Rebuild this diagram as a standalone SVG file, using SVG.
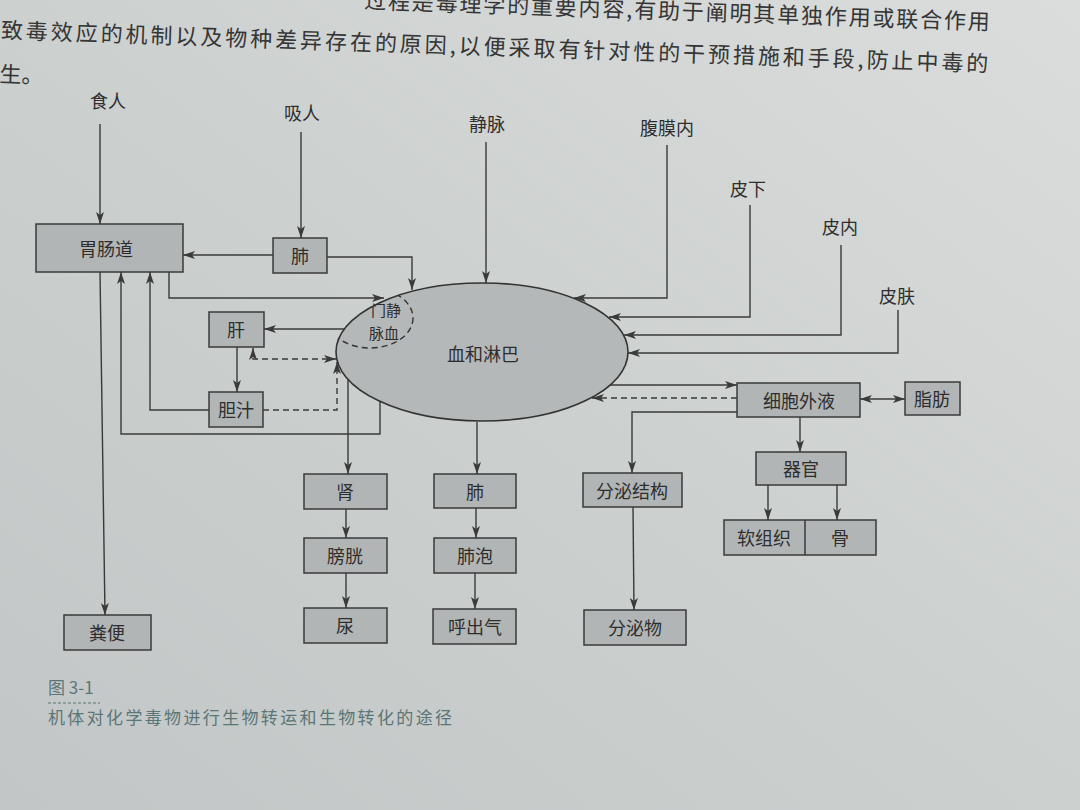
<svg xmlns="http://www.w3.org/2000/svg" width="1080" height="810" viewBox="0 0 1080 810">
<defs>
<linearGradient id="bg" x1="1" y1="0" x2="0" y2="1">
<stop offset="0" stop-color="#dadddc"/>
<stop offset="0.5" stop-color="#ccd0cf"/>
<stop offset="1" stop-color="#c2c6c6"/>
</linearGradient>
<marker id="a" viewBox="0 0 12 8" refX="12" refY="4" markerWidth="12" markerHeight="8" markerUnits="userSpaceOnUse" orient="auto-start-reverse">
<path d="M0,0 L12,4 L0,8 L3,4 z" fill="#3a3a3a"/>
</marker>
<clipPath id="ec"><ellipse cx="482" cy="352" rx="146" ry="69"/></clipPath>
</defs>
<style>
.bx{fill:#b2b5b5;stroke:#3a3a3a;stroke-width:1.5}
.t{font-family:"Noto Sans CJK SC","Noto Sans",sans-serif;font-size:18px;fill:#2e2e2e;text-anchor:middle;dominant-baseline:central}
.pv{font-family:"Noto Sans CJK SC","Noto Sans",sans-serif;font-size:15px;fill:#2e2e2e;text-anchor:middle}
.ln{fill:none;stroke:#3a3a3a;stroke-width:1.4}
.ar{marker-end:url(#a)}
.dl{stroke-dasharray:6,4}
.body{font-family:"Noto Sans CJK SC","Noto Sans",sans-serif;font-size:22px;fill:#353535}
.cap{font-family:"Noto Sans CJK SC","Noto Sans",sans-serif;font-size:17px;fill:#5b7676}
</style>
<rect x="0" y="0" width="1080" height="810" fill="url(#bg)"/>

<g id="page-text" transform="rotate(1.96)">
<text class="body" x="364" y="-4" textLength="626" lengthAdjust="spacing">过程是毒理学的重要内容,有助于阐明其单独作用或联合作用</text>
<text class="body" x="2" y="38" textLength="988" lengthAdjust="spacing">致毒效应的机制以及物种差异存在的原因,以便采取有针对性的干预措施和手段,防止中毒的</text>
<text class="body" x="2" y="82">生。</text>
</g>

<g id="connectors">
<path class="ln ar" d="M100,124 L100,224"/>
<path class="ln ar" d="M301,132 L301,238"/>
<path class="ln ar" d="M273,255 L183,255"/>
<path class="ln ar" d="M327,257 L412,257 L412,290"/>
<path class="ln ar" d="M169,272 L169,298 L384,298"/>
<path class="ln ar" d="M344,329 L264,329"/>
<path class="ln ar" d="M237,347 L237,392"/>
<path class="ln ar" d="M209,410 L150,410 L150,272"/>
<path class="ln ar" d="M380,401 L380,434 L121,434 L121,272"/>
<path class="ln ar dl" d="M263,410 L337,410 L337,362"/>
<path class="ln ar dl" style="marker-start:url(#a)" d="M253,348 L253,359 L336,359"/>
<path class="ln ar" d="M100,272 L105,615"/>
<path class="ln ar" d="M486,142 L486,283"/>
<path class="ln ar" d="M667,145 L667,298 L574,298"/>
<path class="ln ar" d="M750,205 L750,317 L609,317"/>
<path class="ln ar" d="M841,245 L841,335 L624,335"/>
<path class="ln ar" d="M898,310 L898,353 L628,353"/>
<path class="ln ar" d="M609,385 L737,385"/>
<path class="ln ar dl" d="M737,398 L592,398"/>
<path class="ln ar" d="M737,412 L632,412 L632,473"/>
<path class="ln ar" d="M633,507 L634,610"/>
<path class="ln ar" style="marker-start:url(#a)" d="M860,399 L905,399"/>
<path class="ln ar" d="M800,417 L800,452"/>
<path class="ln ar" d="M768,485 L768,520"/>
<path class="ln ar" d="M837,485 L837,520"/>
<path class="ln ar" d="M348,380 L348,474"/>
<path class="ln ar" d="M346,509 L346,538"/>
<path class="ln ar" d="M346,573 L346,608"/>
<path class="ln ar" d="M477,422 L477,474"/>
<path class="ln ar" d="M476,508 L476,538"/>
<path class="ln ar" d="M475,573 L475,609"/>
</g>

<g id="labels-in">
<text class="t" x="108" y="100">食人</text>
<text class="t" x="302" y="112">吸人</text>
<text class="t" x="487" y="123">静脉</text>
<text class="t" x="667" y="127">腹膜内</text>
<text class="t" x="748" y="188">皮下</text>
<text class="t" x="840" y="226">皮内</text>
<text class="t" x="897" y="295">皮肤</text>
</g>

<g id="blood">
<ellipse cx="482" cy="352" rx="146" ry="69" fill="#b5b8b8" stroke="#333" stroke-width="1.6"/>
<ellipse cx="370" cy="318" rx="43" ry="30" fill="none" stroke="#333" stroke-width="1.4" stroke-dasharray="6,4" clip-path="url(#ec)"/>
<text class="pv" x="386" y="316"><tspan x="386" y="316">门静</tspan><tspan x="384" y="339">脉血</tspan></text>
<text class="t" x="483" y="353">血和淋巴</text>
</g>

<g id="gi"><rect class="bx" x="36" y="224" width="147" height="48"/><text class="t" x="106" y="248">胃肠道</text></g>
<g id="lung-in"><rect class="bx" x="273" y="238" width="54" height="35"/><text class="t" x="300" y="255">肺</text></g>
<g id="liver"><rect class="bx" x="209" y="312" width="55" height="35"/><text class="t" x="236" y="329">肝</text></g>
<g id="bile"><rect class="bx" x="209" y="392" width="54" height="35"/><text class="t" x="236" y="409">胆汁</text></g>
<g id="feces"><rect class="bx" x="64" y="615" width="87" height="35"/><text class="t" x="107" y="632">粪便</text></g>
<g id="kidney"><rect class="bx" x="304" y="474" width="83" height="35"/><text class="t" x="345" y="491">肾</text></g>
<g id="bladder"><rect class="bx" x="304" y="538" width="83" height="35"/><text class="t" x="345" y="555">膀胱</text></g>
<g id="urine"><rect class="bx" x="304" y="608" width="83" height="35"/><text class="t" x="345" y="625">尿</text></g>
<g id="lung-out"><rect class="bx" x="434" y="474" width="82" height="34"/><text class="t" x="475" y="491">肺</text></g>
<g id="alveoli"><rect class="bx" x="434" y="538" width="82" height="35"/><text class="t" x="475" y="555">肺泡</text></g>
<g id="exhaled"><rect class="bx" x="433" y="609" width="83" height="35"/><text class="t" x="475" y="626">呼出气</text></g>
<g id="secretory"><rect class="bx" x="583" y="473" width="99" height="34"/><text class="t" x="632" y="490">分泌结构</text></g>
<g id="secretion"><rect class="bx" x="584" y="610" width="102" height="35"/><text class="t" x="635" y="627">分泌物</text></g>
<g id="ecf"><rect class="bx" x="737" y="383" width="123" height="34"/><text class="t" x="799" y="400">细胞外液</text></g>
<g id="fat"><rect class="bx" x="905" y="382" width="55" height="33"/><text class="t" x="932" y="398">脂肪</text></g>
<g id="organ"><rect class="bx" x="756" y="452" width="90" height="33"/><text class="t" x="801" y="468">器官</text></g>
<g id="soft-bone"><rect class="bx" x="724" y="520" width="152" height="35"/><line x1="805" y1="520" x2="805" y2="555" stroke="#3a3a3a" stroke-width="1.5"/><text class="t" x="764" y="537">软组织</text><text class="t" x="840" y="537">骨</text></g>

<g id="caption">
<text class="cap" x="48" y="694">图 3-1</text>
<line x1="48" y1="703" x2="100" y2="703" stroke="#5b7676" stroke-width="1" stroke-dasharray="3,2"/>
<text class="cap" x="48" y="724" textLength="404" lengthAdjust="spacing">机体对化学毒物进行生物转运和生物转化的途径</text>
</g>
</svg>
